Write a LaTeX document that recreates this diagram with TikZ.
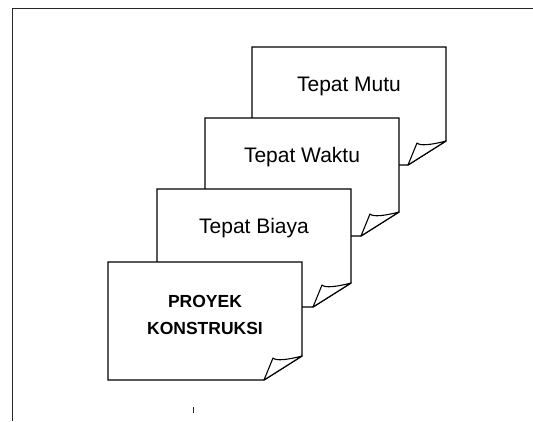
\documentclass[tikz,border=0pt]{standalone}
\usepackage{fontspec}
\setmainfont{Liberation Sans}
\newcommand\docpage[2]{%
  \begin{scope}[shift={(#1,#2)}]
    \filldraw[pageline] (0,0) -- (194,0) -- (194,94) -- (156,118) -- (0,118) -- cycle;
    \filldraw[curlline] (156,118) -- (165,96) .. controls (168,99) and (179,98) .. (194,94) -- cycle;
  \end{scope}}
\begin{document}
\begin{tikzpicture}[x=1pt,y=-1pt,
  pageline/.style={line width=1.3pt, fill=white, line join=miter},
  curlline/.style={line width=1.1pt, fill=white, line join=round},
  frameline/.style={line width=0.8pt, draw=black!85},
  lbl/.style={font=\fontsize{21}{25}\selectfont, anchor=center, inner sep=0pt},
  blbl/.style={font=\fontsize{17.5}{27}\selectfont\bfseries, align=center, anchor=center, inner sep=0pt}]
\useasboundingbox (0,0) rectangle (533,421);
\draw[frameline] (533,8) -- (12,8) -- (12,421);
\docpage{252}{47}
\node[lbl] (mutu) at (349,86) {Tepat Mutu};
\docpage{205}{118}
\node[lbl] (waktu) at (302,157) {Tepat Waktu};
\docpage{157}{189}
\node[lbl] (biaya) at (254,228) {Tepat Biaya};
\docpage{108}{262}
\node[blbl] (proyek) at (205,315) {PROYEK\\KONSTRUKSI};
\draw[frameline] (193,407) -- (193,413);
\end{tikzpicture}
\end{document}
